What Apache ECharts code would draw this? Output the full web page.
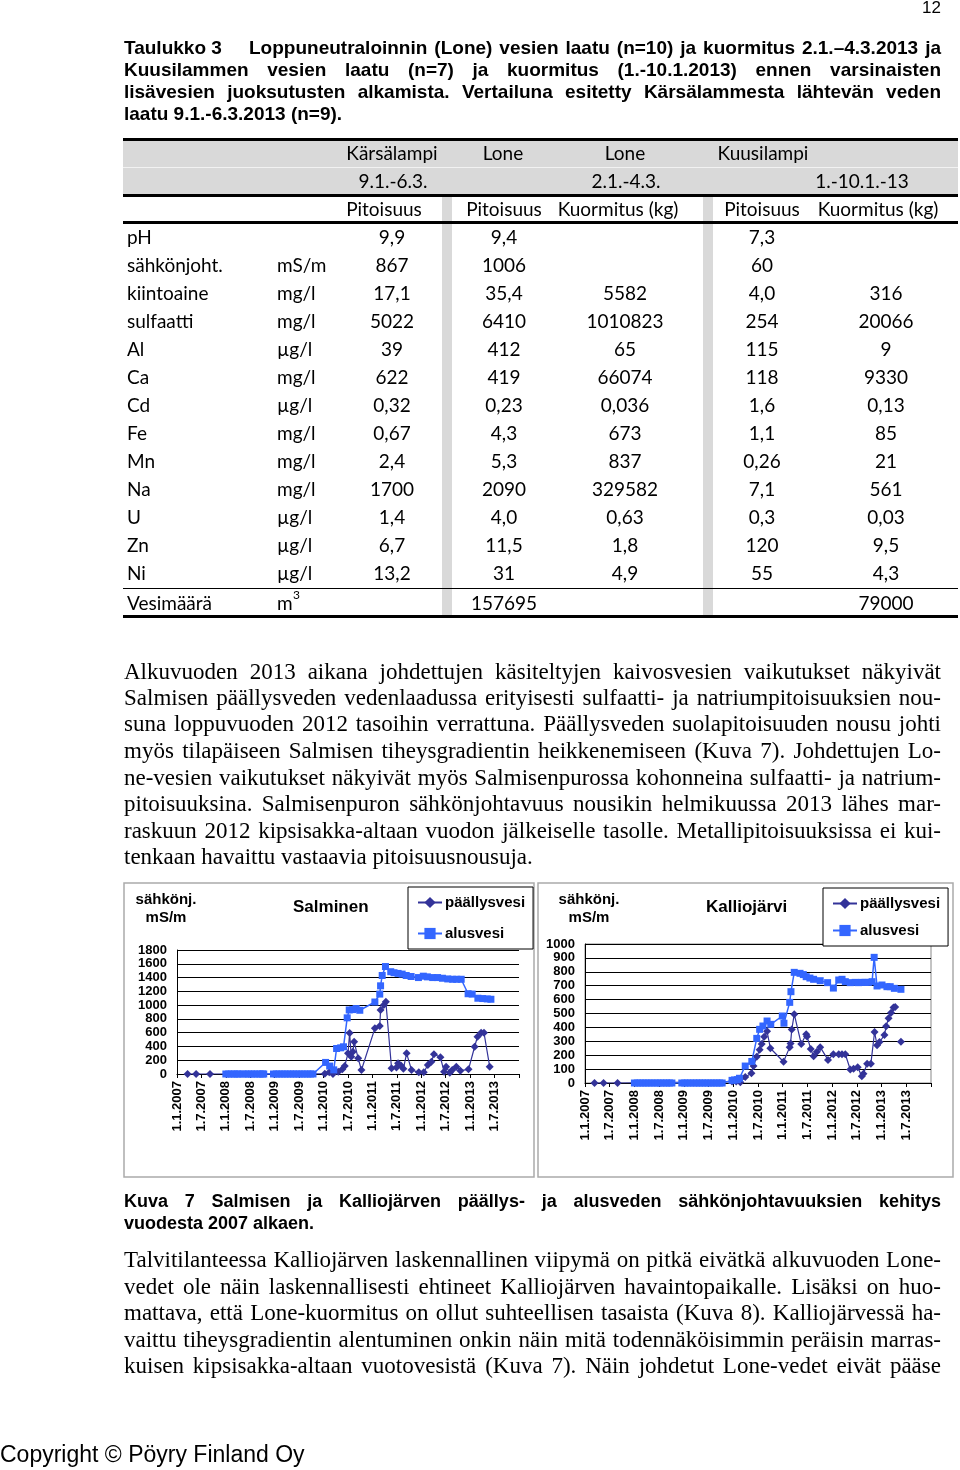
<!DOCTYPE html>
<html><head><meta charset="utf-8">
<script src="https://cdn.jsdelivr.net/npm/echarts@6/dist/echarts.min.js"></script>
<style>
html,body{margin:0;padding:0;background:#fff;}
#page{position:relative;width:960px;height:1470px;overflow:hidden;background:#fff;}
#chart{position:absolute;left:0;top:0;width:960px;height:1470px;}
#doc{position:absolute;left:0;top:0;width:960px;height:1470px;pointer-events:none;}
.ln{position:absolute;white-space:nowrap;height:30px;line-height:30px;color:#000;}
.ln span{white-space:nowrap;}
.ttl{font-family:'Liberation Sans',Arial,sans-serif;font-weight:bold;font-size:19px;}
.cap{font-family:'Liberation Sans',Arial,sans-serif;font-weight:bold;font-size:18px;}
.par{font-family:'Liberation Serif','Times New Roman',serif;font-size:23px;}
.tab{font-family:Lato,'Open Sans',sans-serif;font-size:19px;}
.misc{font-family:'Liberation Sans',Arial,sans-serif;}
.bar{position:absolute;}
</style></head>
<body><div id="page"><div id="chart"></div><div id="doc"></div></div>
<script>
// ---------------- document text ----------------
const pageNumber = '12';
const titleHead = 'Taulukko 3';
const titleLines = [
  'Loppuneutraloinnin (Lone) vesien laatu (n=10) ja kuormitus 2.1.–4.3.2013 ja',
  'Kuusilammen vesien laatu (n=7) ja kuormitus (1.-10.1.2013) ennen varsinaisten',
  'lisävesien juoksutusten alkamista. Vertailuna esitetty Kärsälammesta lähtevän veden',
  'laatu 9.1.-6.3.2013 (n=9).'
];
// ---------------- table ----------------
const tableGroups = ['Kärsälampi', 'Lone', 'Lone', 'Kuusilampi'];
const tablePeriods = ['9.1.-6.3.', '2.1.-4.3.', '1.-10.1.-13'];
const tableColHeads = ['Pitoisuus', 'Pitoisuus', 'Kuormitus (kg)', 'Pitoisuus', 'Kuormitus (kg)'];
const tableParams = ['pH', 'sähkönjoht.', 'kiintoaine', 'sulfaatti', 'Al', 'Ca', 'Cd', 'Fe', 'Mn', 'Na', 'U', 'Zn', 'Ni'];
const tableUnits = ['', 'mS/m', 'mg/l', 'mg/l', 'µg/l', 'mg/l', 'µg/l', 'mg/l', 'mg/l', 'mg/l', 'µg/l', 'µg/l', 'µg/l'];
const karsalampiConc = ['9,9', '867', '17,1', '5022', '39', '622', '0,32', '0,67', '2,4', '1700', '1,4', '6,7', '13,2'];
const loneConc = ['9,4', '1006', '35,4', '6410', '412', '419', '0,23', '4,3', '5,3', '2090', '4,0', '11,5', '31'];
const loneLoad = ['', '', '5582', '1010823', '65', '66074', '0,036', '673', '837', '329582', '0,63', '1,8', '4,9'];
const kuusiConc = ['7,3', '60', '4,0', '254', '115', '118', '1,6', '1,1', '0,26', '7,1', '0,3', '120', '55'];
const kuusiLoad = ['', '', '316', '20066', '9', '9330', '0,13', '85', '21', '561', '0,03', '9,5', '4,3'];
const volumeLabel = 'Vesimäärä';
const volumeValues = ['157695', '79000'];
// ---------------- paragraphs ----------------
const para1 = [
  'Alkuvuoden 2013 aikana johdettujen käsiteltyjen kaivosvesien vaikutukset näkyivät',
  'Salmisen päällysveden vedenlaadussa erityisesti sulfaatti- ja natriumpitoisuuksien nou-',
  'suna loppuvuoden 2012 tasoihin verrattuna. Päällysveden suolapitoisuuden nousu johti',
  'myös tilapäiseen Salmisen tiheysgradientin heikkenemiseen (Kuva 7). Johdettujen Lo-',
  'ne-vesien vaikutukset näkyivät myös Salmisenpurossa kohonneina sulfaatti- ja natrium-',
  'pitoisuuksina. Salmisenpuron sähkönjohtavuus nousikin helmikuussa 2013 lähes mar-',
  'raskuun 2012 kipsisakka-altaan vuodon jälkeiselle tasolle. Metallipitoisuuksissa ei kui-',
  'tenkaan havaittu vastaavia pitoisuusnousuja.'
];
const captionLines = [
  'Kuva 7 Salmisen ja Kalliojärven päällys- ja alusveden sähkönjohtavuuksien kehitys',
  'vuodesta 2007 alkaen.'
];
const para2 = [
  'Talvitilanteessa Kalliojärven laskennallinen viipymä on pitkä eivätkä alkuvuoden Lone-',
  'vedet ole näin laskennallisesti ehtineet Kalliojärven havaintopaikalle. Lisäksi on huo-',
  'mattava, että Lone-kuormitus on ollut suhteellisen tasaista (Kuva 8). Kalliojärvessä ha-',
  'vaittu tiheysgradientin alentuminen onkin näin mitä todennäköisimmin peräisin marras-',
  'kuisen kipsisakka-altaan vuotovesistä (Kuva 7). Näin johdetut Lone-vedet eivät pääse'
];
const copyrightText = 'Copyright © Pöyry Finland Oy';

// ---------------- chart data ----------------
const chartTitles = ['Salminen', 'Kalliojärvi'];
const unitLines = ['sähkönj.', 'mS/m'];
const seriesNames = ['päällysvesi', 'alusvesi'];
const xTickLabels = ['1.1.2007','1.7.2007','1.1.2008','1.7.2008','1.1.2009','1.7.2009','1.1.2010','1.7.2010','1.1.2011','1.7.2011','1.1.2012','1.7.2012','1.1.2013','1.7.2013'];

const salPDates = ['19.3.2007','22.5.2007','4.9.2007','10.1.2010','13.2.2010','10.3.2010','19.4.2010','19.5.2010','7.6.2010','1.7.2010','13.7.2010','25.7.2010','7.8.2010','16.8.2010','16.9.2010','10.10.2010','19.1.2011','25.2.2011','1.3.2011','25.3.2011','10.4.2011','22.5.2011','28.6.2011','10.7.2011','1.8.2011','19.8.2011','13.9.2011','19.10.2011','13.12.2011','19.1.2012','19.2.2012','16.3.2012','4.4.2012','22.5.2012','19.6.2012','4.7.2012','1.8.2012','19.8.2012','19.9.2012','19.10.2012','19.12.2012','4.2.2013','25.2.2013','22.3.2013','13.4.2013','25.5.2013'];
const salPVals = [0,0,0,5,25,0,33,68,116,300,595,250,324,469,228,58,663,697,929,1001,1049,82,95,155,125,75,300,58,24,24,130,179,286,242,34,106,19,58,106,48,68,396,541,599,599,106];

const salADates = ['1.1.2008','22.1.2008','13.2.2008','4.3.2008','25.3.2008','7.4.2008','7.5.2008','28.5.2008','19.6.2008','10.7.2008','1.8.2008','22.8.2008','13.9.2008','1.10.2008','10.10.2008','22.12.2008','13.1.2009','4.2.2009','25.2.2009','16.3.2009','7.4.2009','28.4.2009','19.5.2009','10.6.2009','1.7.2009','22.7.2009','13.8.2009','4.9.2009','25.9.2009','13.10.2009','16.1.2010','16.2.2010','16.3.2010','7.4.2010','7.5.2010','28.5.2010','25.6.2010','10.7.2010','7.8.2010','1.9.2010','28.9.2010','19.1.2011','25.2.2011','1.3.2011','13.3.2011','7.4.2011','16.5.2011','10.6.2011','10.7.2011','10.8.2011','10.9.2011','16.10.2011','10.12.2011','16.1.2012','16.2.2012','25.3.2012','1.5.2012','7.6.2012','16.7.2012','22.8.2012','22.9.2012','25.10.2012','16.12.2012','16.1.2013','28.2.2013','4.4.2013','7.5.2013','4.6.2013'];
const salAVals = [0,0,0,0,0,0,0,0,0,0,0,0,0,0,0,0,0,0,0,0,0,0,0,0,0,0,0,0,0,0,168,115,60,370,380,395,815,930,935,950,925,1045,1160,1280,1430,1560,1485,1470,1460,1450,1430,1415,1400,1420,1410,1400,1400,1390,1380,1375,1375,1375,1165,1160,1100,1095,1090,1085];

const kalPDates = ['10.3.2007','16.5.2007','28.8.2007','22.12.2009','22.1.2010','22.2.2010','28.3.2010','13.5.2010','28.5.2010','22.6.2010','13.7.2010','28.7.2010','16.8.2010','7.9.2010','1.10.2010','7.1.2011','22.2.2011','28.2.2011','7.3.2011','25.3.2011','16.5.2011','22.6.2011','28.6.2011','25.7.2011','16.8.2011','10.9.2011','4.10.2011','1.12.2011','10.1.2012','19.2.2012','13.3.2012','7.4.2012','13.5.2012','7.6.2012','7.7.2012','7.8.2012','19.8.2012','16.9.2012','13.10.2012','10.11.2012','28.11.2012','16.12.2012','22.1.2013','4.2.2013','22.2.2013','10.3.2013','28.3.2013','10.4.2013','1.5.2013','22.5.2013'];
const kalPVals = [0,0,0,10,10,5,43,70,122,189,240,281,333,372,250,153,258,285,385,495,281,350,335,245,192,225,258,166,207,207,207,207,97,103,114,48,66,138,138,367,272,295,345,408,465,506,543,546,null,297];

const kalADates = ['1.1.2008','22.1.2008','13.2.2008','4.3.2008','25.3.2008','16.4.2008','7.5.2008','1.6.2008','22.6.2008','13.7.2008','4.8.2008','25.8.2008','16.9.2008','4.10.2008','16.12.2008','7.1.2009','28.1.2009','19.2.2009','13.3.2009','4.4.2009','25.4.2009','16.5.2009','7.6.2009','28.6.2009','19.7.2009','10.8.2009','1.9.2009','22.9.2009','10.10.2009','22.12.2009','10.1.2010','1.2.2010','16.2.2010','28.3.2010','16.5.2010','22.6.2010','13.7.2010','7.8.2010','7.9.2010','4.10.2010','28.12.2010','10.1.2011','22.2.2011','1.3.2011','25.3.2011','7.5.2011','1.6.2011','22.6.2011','19.7.2011','16.8.2011','4.10.2011','28.11.2011','10.1.2012','19.2.2012','13.3.2012','7.4.2012','13.5.2012','19.6.2012','13.7.2012','7.8.2012','1.9.2012','25.9.2012','22.10.2012','7.11.2012','28.11.2012','4.1.2013','10.2.2013','4.3.2013','4.4.2013','22.5.2013'];
const kalAVals = [0,0,0,0,0,0,0,0,0,0,0,0,0,0,0,0,0,0,0,0,0,0,0,0,0,0,0,0,0,19,22,24,34,122,155,321,386,410,446,422,482,430,580,657,796,789,780,765,755,746,736,722,683,741,746,729,722,724,722,724,724,724,729,904,698,705,693,693,681,674];

// ---------------- helpers for the HTML document layer ----------------
const doc = document.getElementById('doc');
function line(text, x, yc, w, cls, justify) {
  const d = document.createElement('div');
  d.className = 'ln ' + cls;
  d.style.left = x + 'px';
  d.style.top = (yc - 15) + 'px';
  const s = document.createElement('span');
  s.textContent = text;
  d.appendChild(s);
  doc.appendChild(d);
  const nat = s.getBoundingClientRect().width;
  if (w && nat > w) {
    s.style.display = 'inline-block';
    s.style.transformOrigin = '0 50%';
    s.style.transform = 'scaleX(' + (w / nat) + ')';
  } else if (w && justify) {
    const n = (text.match(/ /g) || []).length;
    if (n) s.style.wordSpacing = ((w - nat) / n) + 'px';
  }
  return d;
}
function cell(text, cx, yc, cls, align) {
  const d = document.createElement('div');
  d.className = 'ln ' + cls;
  d.style.top = (yc - 15) + 'px';
  if (align === 'left') { d.style.left = cx + 'px'; }
  else { d.style.left = (cx - 150) + 'px'; d.style.width = '300px'; d.style.textAlign = 'center'; }
  d.textContent = text;
  doc.appendChild(d);
  return d;
}
function rect(x, y, w, h, color) {
  const d = document.createElement('div');
  d.className = 'bar';
  d.style.left = x + 'px'; d.style.top = y + 'px';
  d.style.width = w + 'px'; d.style.height = h + 'px';
  d.style.background = color;
  doc.appendChild(d);
}

// page number
const pn = cell(pageNumber, 922, 8, 'misc', 'left'); pn.style.fontSize = '17px';
// title
line(titleHead, 124, 48, 0, 'ttl', false);
line(titleLines[0], 249, 48, 692, 'ttl', true);
line(titleLines[1], 124, 70, 817, 'ttl', true);
line(titleLines[2], 124, 92, 817, 'ttl', true);
line(titleLines[3], 124, 114, 0, 'ttl', false);

// table backgrounds and rules
const TL = 123, TW = 835;
rect(TL, 140, TW, 55, '#d9d9d9');
rect(TL, 167, TW, 1, '#f2f2f2');
rect(442, 196, 10, 420, '#d9d9d9');
rect(703, 196, 10, 420, '#d9d9d9');
rect(TL, 138, TW, 2.5, '#000');
rect(TL, 194, TW, 2.5, '#000');
rect(TL, 221, TW, 2.5, '#000');
rect(TL, 587.5, TW, 1.2, '#000');
rect(TL, 615, TW, 3, '#000');

const g1 = [392, 503, 625, 763];
tableGroups.forEach((t, i) => cell(t, g1[i], 153, 'tab'));
const g2 = [393, 626, 862];
tablePeriods.forEach((t, i) => cell(t, g2[i], 181, 'tab'));
const g3 = [384, 504, 618, 762, 878];
tableColHeads.forEach((t, i) => cell(t, g3[i], 209, 'tab'));
const colC = [392, 504, 625, 762, 886];
const cols = [karsalampiConc, loneConc, loneLoad, kuusiConc, kuusiLoad];
tableParams.forEach((p, r) => {
  const y = 237 + 28 * r;
  cell(p, 127, y, 'tab', 'left');
  if (tableUnits[r]) cell(tableUnits[r], 277, y, 'tab', 'left');
  cols.forEach((c, k) => { if (c[r]) cell(c[r], colC[k], y, 'tab'); });
});
cell(volumeLabel, 127, 603, 'tab', 'left');
cell('m', 277, 603, 'tab', 'left');
const sup = cell('3', 293, 595, 'tab', 'left'); sup.style.fontSize = '12px';
cell(volumeValues[0], 504, 603, 'tab');
cell(volumeValues[1], 886, 603, 'tab');

// paragraph 1
const p1y = [672, 698, 724, 751, 778, 804, 831, 857];
para1.forEach((t, i) => line(t, 124, p1y[i], i < para1.length - 1 ? 817 : 0, 'par', i < para1.length - 1));
// caption
line(captionLines[0], 124, 1201, 817, 'cap', true);
line(captionLines[1], 124, 1223, 0, 'cap', false);
// paragraph 2
const p2y = [1260, 1287, 1313, 1340, 1366];
para2.forEach((t, i) => line(t, 124, p2y[i], 817, 'par', true));
// copyright
const cp = cell(copyrightText, 0, 1454, 'misc', 'left'); cp.style.fontSize = '23px';

// ---------------- ECharts ----------------
function monthIndex(s) {
  const [d, m, y] = s.split('.').map(Number);
  return (y - 2007) * 12 + (m - 1) + (d - 1) / 30;
}
function toXY(dates, vals) {
  return dates.map((s, i) => [monthIndex(s), vals[i] == null ? '-' : vals[i]]);
}
const FONT = "'Liberation Sans', Arial, sans-serif";
const cP = '#333399', cA = '#3366FF';

function xAxisFor(gi) {
  return {
    type: 'value', gridIndex: gi, min: 0, max: 84, interval: 6,
    axisLine: { show: true, lineStyle: { color: '#000', width: 1 } },
    axisTick: { show: true, length: 4, lineStyle: { color: '#000' } },
    splitLine: { show: false },
    axisLabel: {
      rotate: 90, margin: 7, color: '#000', fontFamily: FONT, fontWeight: 'bold', fontSize: 13,
      formatter: v => { const k = Math.round(v / 6); return k < xTickLabels.length ? xTickLabels[k] : ''; }
    }
  };
}
function yAxisFor(gi, max, step) {
  return {
    type: 'value', gridIndex: gi, min: 0, max: max, interval: step,
    axisLine: { show: true, lineStyle: { color: '#000', width: 1 } },
    axisTick: { show: false },
    splitLine: { show: true, lineStyle: { color: '#000', width: 1 } },
    axisLabel: { margin: 10, color: '#000', fontFamily: FONT, fontWeight: 'bold', fontSize: 13, formatter: v => String(v) }
  };
}
function ser(name, gi, data, sym, size, color, lw) {
  return {
    type: 'line', name: name, xAxisIndex: gi, yAxisIndex: gi, data: data,
    symbol: sym, symbolSize: size, showAllSymbol: true, connectNulls: false,
    itemStyle: { color: color, borderWidth: 0 },
    lineStyle: { color: color, width: lw },
    emphasis: { disabled: true }, animation: false, z: name === seriesNames[1] ? 3 : 2
  };
}
function legendAt(left, top, gap) {
  return {
    left: left, top: top, orient: 'vertical', itemGap: gap, itemWidth: 24, itemHeight: 14,
    padding: [8, 8, 8, 9], borderColor: '#000', borderWidth: 1, backgroundColor: '#fff',
    selectedMode: false, data: seriesNames,
    textStyle: { color: '#000', fontFamily: FONT, fontWeight: 'bold', fontSize: 15, padding: [0, 0, 0, -2] }
  };
}
function txt(x, y, text, size, align) {
  return { type: 'text', x: x, y: y, style: { text: text, fill: '#000', font: 'bold ' + size + 'px ' + FONT, textAlign: align || 'left', textVerticalAlign: 'middle' } };
}

const chart = echarts.init(document.getElementById('chart'), null, { renderer: 'canvas' });
chart.setOption({
  animation: false,
  backgroundColor: '#fff',
  grid: [
    { left: 177, top: 950, width: 342, height: 124, show: false },
    { left: 585, top: 944, width: 346, height: 139, show: true, borderColor: '#888', borderWidth: 1, backgroundColor: 'transparent' }
  ],
  xAxis: [xAxisFor(0), xAxisFor(1)],
  yAxis: [yAxisFor(0, 1800, 200), yAxisFor(1, 1000, 100)],
  legend: [legendAt(408, 887, 16), legendAt(823, 888, 12)],
  series: [
    ser(seriesNames[0], 0, toXY(salPDates, salPVals), 'diamond', 8, cP, 1.2),
    ser(seriesNames[1], 0, toXY(salADates, salAVals), 'rect', 7, cA, 1.5),
    ser(seriesNames[0], 1, toXY(kalPDates, kalPVals), 'diamond', 8, cP, 1.2),
    ser(seriesNames[1], 1, toXY(kalADates, kalAVals), 'rect', 7, cA, 1.5)
  ],
  graphic: [
    { type: 'rect', z: -10, shape: { x: 124, y: 883, width: 410, height: 294 }, style: { fill: 'none', stroke: '#aaa', lineWidth: 1.5 } },
    { type: 'rect', z: -10, shape: { x: 538, y: 883, width: 415, height: 294 }, style: { fill: 'none', stroke: '#aaa', lineWidth: 1.5 } },
    txt(166, 900, unitLines[0], 15, 'center'),
    txt(166, 918, unitLines[1], 15, 'center'),
    txt(293, 907, chartTitles[0], 17),
    txt(589, 900, unitLines[0], 15, 'center'),
    txt(589, 918, unitLines[1], 15, 'center'),
    txt(706, 907, chartTitles[1], 17)
  ]
});
</script>
</body></html>
